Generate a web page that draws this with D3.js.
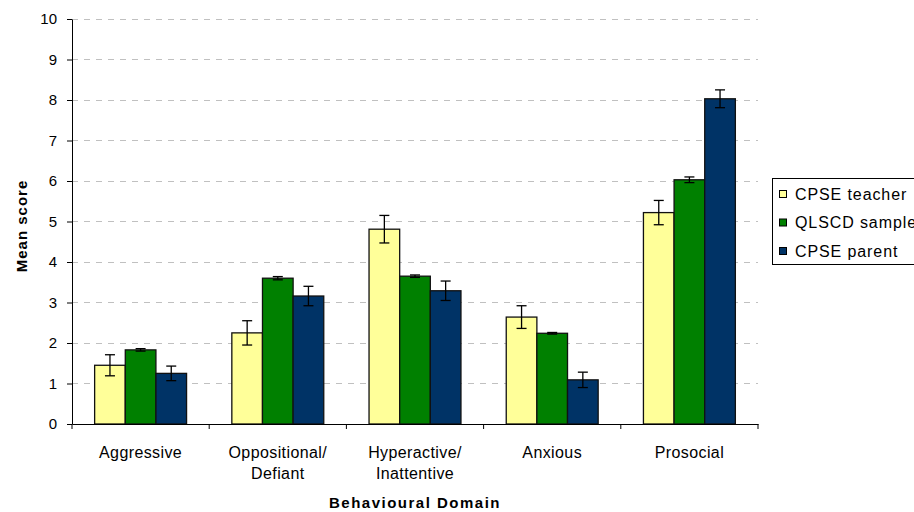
<!DOCTYPE html>
<html><head><meta charset="utf-8">
<script src="https://cdn.jsdelivr.net/npm/d3@7"></script>
<style>
body{margin:0;background:#fff;}
svg{display:block;font-family:"Liberation Sans",Arial,sans-serif;}
</style></head>
<body><svg id="c" width="914" height="512"></svg>
<script>
const categories = ["Aggressive","Oppositional/\nDefiant","Hyperactive/\nInattentive","Anxious","Prosocial"];
const seriesNames = ["CPSE teacher","QLSCD sample","CPSE parent"];
const seriesColors = ["#FFFF99","#008000","#003366"];
const teacherVals = [1.45, 2.25, 4.81, 2.64, 5.22];
const qlscdVals   = [1.83, 3.60, 3.65, 2.24, 6.03];
const parentVals  = [1.25, 3.16, 3.29, 1.09, 8.03];
const teacherErr  = [0.26, 0.30, 0.34, 0.28, 0.30];
const qlscdErr    = [0.03, 0.04, 0.03, 0.02, 0.07];
const parentErr   = [0.18, 0.24, 0.24, 0.19, 0.22];
const yTicks = [0,1,2,3,4,5,6,7,8,9,10];

const values = [teacherVals, qlscdVals, parentVals];
const errors = [teacherErr, qlscdErr, parentErr];

const svg = d3.select("#c");
const mLeft = 72, mRight = 758, mTop = 19, mBottom = 424;

const x0 = d3.scaleBand().domain(categories).range([mLeft, mRight]).padding(0);
const groupFrac = 0.67;
const x1 = d3.scaleBand().domain(seriesNames)
  .range([x0.bandwidth()*(1-groupFrac)/2, x0.bandwidth()*(1+groupFrac)/2]).padding(0);
const y = d3.scaleLinear().domain([0,10]).range([mBottom, mTop]);

// gridlines
svg.append("g").selectAll("line").data(yTicks.filter(d=>d>0)).join("line")
  .attr("x1", mLeft).attr("x2", mRight)
  .attr("y1", d=>y(d)).attr("y2", d=>y(d))
  .attr("stroke", "#c0c0c0").attr("stroke-width", 1).attr("stroke-dasharray", "6,6")
  .attr("shape-rendering","crispEdges");

// bars
const data = [];
categories.forEach((c,i)=>seriesNames.forEach((s,j)=>data.push({c,s,j,v:values[j][i],e:errors[j][i]})));
const g = svg.append("g");
g.selectAll("rect").data(data).join("rect")
  .attr("x", d=>x0(d.c)+x1(d.s)).attr("width", x1.bandwidth())
  .attr("y", d=>y(d.v)).attr("height", d=>y(0)-y(d.v))
  .attr("fill", d=>seriesColors[d.j]).attr("stroke", "#111").attr("stroke-width", 1.3);

// error bars
const eb = svg.append("g").attr("stroke","#000").attr("stroke-width",1.3);
data.forEach(d=>{
  const cx = x0(d.c)+x1(d.s)+x1.bandwidth()/2;
  eb.append("line").attr("x1",cx).attr("x2",cx).attr("y1",y(d.v+d.e)).attr("y2",y(d.v-d.e));
  [d.v+d.e, d.v-d.e].forEach(v=>eb.append("line").attr("x1",cx-5).attr("x2",cx+5).attr("y1",y(v)).attr("y2",y(v)));
});

// y axis
const ya = svg.append("g").attr("transform",`translate(${mLeft},0)`)
  .call(d3.axisLeft(y).tickValues(yTicks).tickSize(5).tickPadding(10).tickSizeOuter(0));
ya.select(".domain").attr("stroke","#000");
ya.selectAll("text").attr("font-size","15px").attr("fill","#000").attr("font-family","Liberation Sans, Arial, sans-serif");

// x axis
const xa = svg.append("g").attr("transform",`translate(0,${mBottom})`)
  .call(d3.axisBottom(x0).tickSize(0).tickPadding(0).tickSizeOuter(0));
xa.select(".domain").attr("stroke","#000");
xa.selectAll(".tick text").each(function(d){
  const t = d3.select(this);
  t.text(null).attr("font-size","16px").attr("fill","#000").attr("letter-spacing","0.4px")
   .attr("font-family","Liberation Sans, Arial, sans-serif").attr("dy",null).attr("y",34);
  d.split("\n").forEach((line,k)=>t.append("tspan").attr("x",0).attr("dy",k===0?0:21).text(line));
});
const bounds = categories.map(c=>x0(c)).concat([x0(categories[categories.length-1])+x0.bandwidth()]);
xa.selectAll(".btick").data(bounds).join("line").attr("class","btick")
  .attr("x1",d=>d).attr("x2",d=>d).attr("y1",0).attr("y2",5).attr("stroke","#000");

// axis titles
svg.append("text").attr("transform","translate(27,226) rotate(-90)")
  .attr("text-anchor","middle").attr("font-weight","bold").attr("font-size","15px")
  .attr("letter-spacing","1px").text("Mean score");
svg.append("text").attr("x",(mLeft+mRight)/2).attr("y",508)
  .attr("text-anchor","middle").attr("font-weight","bold").attr("font-size","15px")
  .attr("letter-spacing","1.5px").text("Behavioural Domain");

// legend
const lg = svg.append("g");
lg.append("rect").attr("x",772.5).attr("y",178.5).attr("width",160).attr("height",86)
  .attr("fill","#fff").attr("stroke","#000").attr("stroke-width",1);
seriesNames.forEach((s,j)=>{
  const ry = 190 + j*28.5;
  lg.append("rect").attr("x",779.5).attr("y",ry+0.5).attr("width",7).attr("height",7)
    .attr("fill",seriesColors[j]).attr("stroke","#000").attr("stroke-width",1);
  lg.append("text").attr("x",795).attr("y",ry+9.5).attr("font-size","16px")
    .attr("letter-spacing","0.9px").text(s);
});
</script></body></html>
